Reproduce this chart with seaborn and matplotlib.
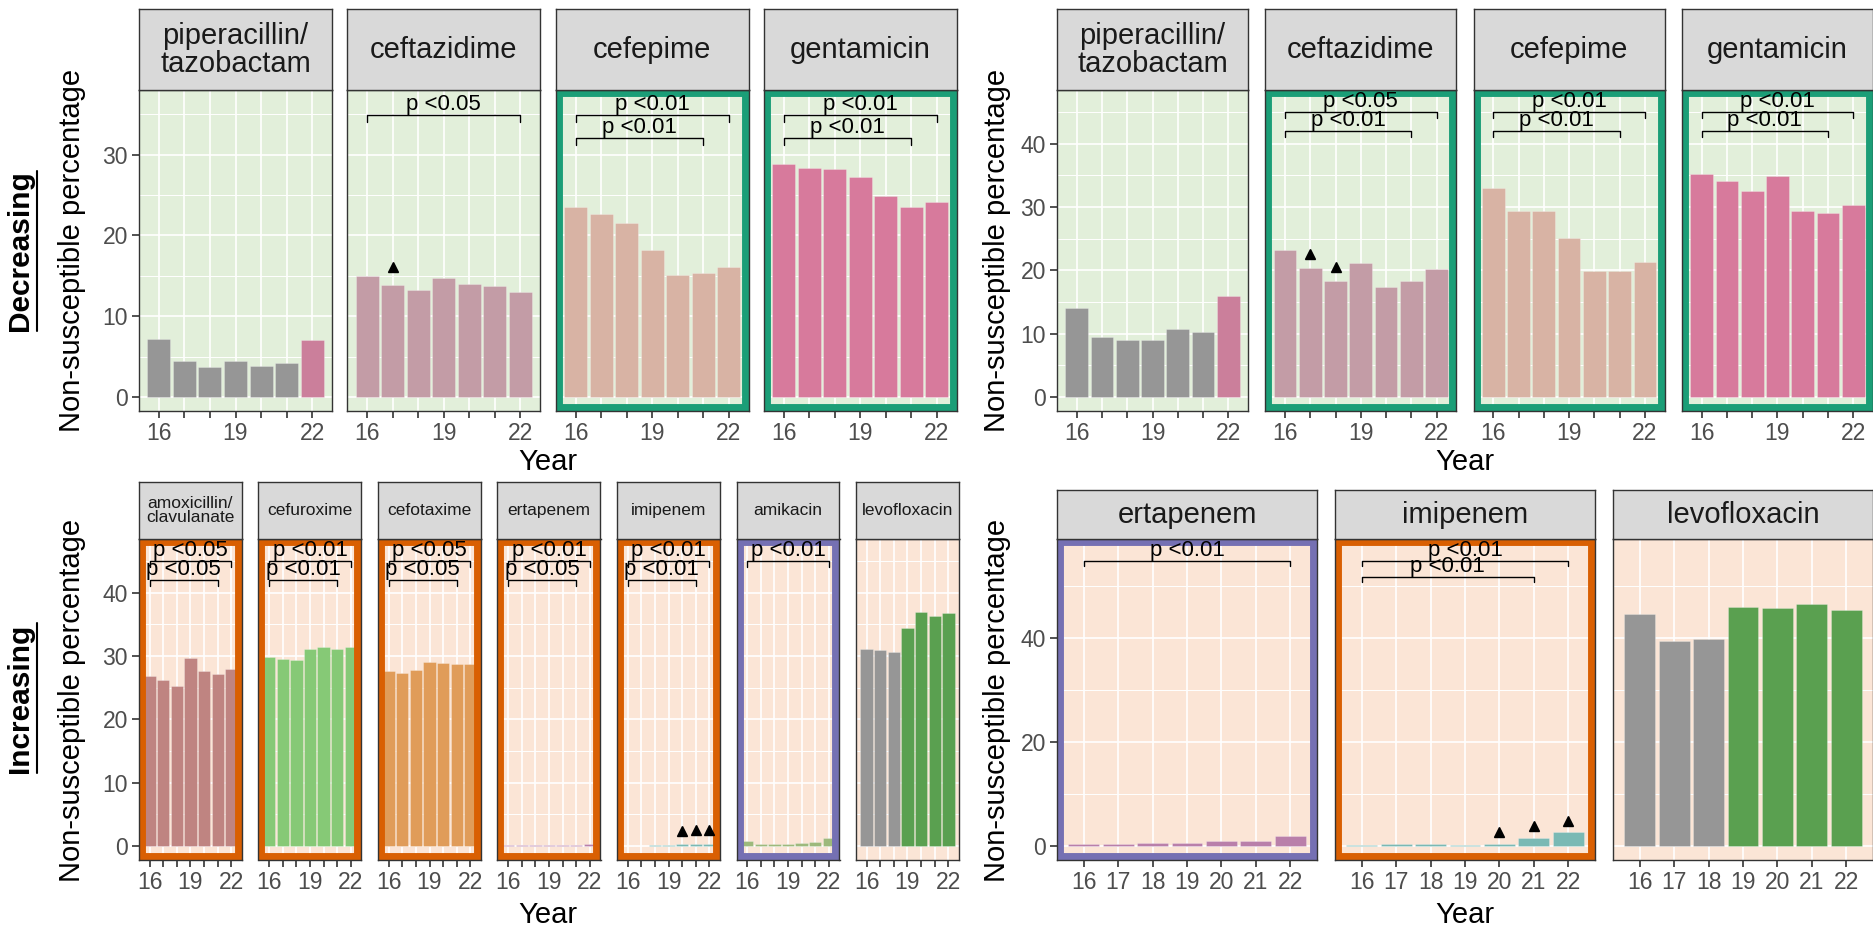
import matplotlib
matplotlib.use("Agg")
import matplotlib.pyplot as plt
from matplotlib.patches import Rectangle
from matplotlib.lines import Line2D
import pandas as pd
import seaborn as sns

# ---------------------------------------------------------------- data
years = [16, 17, 18, 19, 20, 21, 22]

# Decreasing trends, organism A
tl_drugs = ["piperacillin/\ntazobactam", "ceftazidime", "cefepime", "gentamicin"]
tl_pip = [7.2, 4.5, 3.7, 4.4, 3.8, 4.25, 7.1]
tl_caz = [15.0, 13.9, 13.3, 14.7, 14.0, 13.75, 13.0]
tl_fep = [23.5, 22.6, 21.5, 18.2, 15.1, 15.3, 16.1]
tl_gen = [28.9, 28.3, 28.2, 27.2, 24.9, 23.5, 24.1]

# Decreasing trends, organism B
tr_drugs = ["piperacillin/\ntazobactam", "ceftazidime", "cefepime", "gentamicin"]
tr_pip = [14.0, 9.5, 9.05, 9.0, 10.75, 10.3, 15.9]
tr_caz = [23.2, 20.45, 18.3, 21.1, 17.4, 18.4, 20.3]
tr_fep = [33.1, 29.4, 29.4, 25.1, 19.9, 19.85, 21.3]
tr_gen = [35.3, 34.1, 32.6, 34.9, 29.35, 29.15, 30.4]

# Increasing trends, organism A
bl_drugs = ["amoxicillin/\nclavulanate", "cefuroxime", "cefotaxime", "ertapenem",
            "imipenem", "amikacin", "levofloxacin"]
bl_amc = [26.9, 26.2, 25.3, 29.7, 27.6, 27.2, 27.9]
bl_cxm = [29.9, 29.5, 29.4, 31.1, 31.5, 31.2, 31.4]
bl_ctx = [27.7, 27.3, 27.8, 29.05, 28.9, 28.7, 28.7]
bl_etp = [0.1, 0.1, 0.1, 0.15, 0.2, 0.2, 0.25]
bl_ipm = [0.05, 0.05, 0.1, 0.1, 0.25, 0.3, 0.4]
bl_amk = [0.75, 0.4, 0.4, 0.4, 0.5, 0.65, 1.2]
bl_lvx = [31.1, 30.9, 30.7, 34.5, 36.9, 36.4, 36.8]

# Increasing trends, organism B
br_drugs = ["ertapenem", "imipenem", "levofloxacin"]
br_etp = [0.45, 0.45, 0.55, 0.5, 0.95, 0.9, 1.9]
br_ipm = [0.15, 0.4, 0.4, 0.25, 0.45, 1.55, 2.6]
br_lvx = [44.6, 39.3, 39.8, 46.0, 45.8, 46.5, 45.3]

# significance brackets: (from year, to year, label)
tl_sig = [[], [(16, 22, "p <0.05")],
          [(16, 22, "p <0.01"), (16, 21, "p <0.01")],
          [(16, 22, "p <0.01"), (16, 21, "p <0.01")]]
tr_sig = [[], [(16, 22, "p <0.05"), (16, 21, "p <0.01")],
          [(16, 22, "p <0.01"), (16, 21, "p <0.01")],
          [(16, 22, "p <0.01"), (16, 21, "p <0.01")]]
bl_sig = [[(16, 22, "p <0.05"), (16, 21, "p <0.05")],
          [(16, 22, "p <0.01"), (16, 21, "p <0.01")],
          [(16, 22, "p <0.05"), (16, 21, "p <0.05")],
          [(16, 22, "p <0.01"), (16, 21, "p <0.05")],
          [(16, 22, "p <0.01"), (16, 21, "p <0.01")],
          [(16, 22, "p <0.01")],
          []]
br_sig = [[(16, 22, "p <0.01")],
          [(16, 22, "p <0.01"), (16, 21, "p <0.01")],
          []]

# years flagged with a triangle
tl_flag = [[], [17], [], []]
tr_flag = [[], [17, 18], [], []]
bl_flag = [[], [], [], [], [20, 21, 22], [], []]
br_flag = [[], [20, 21, 22], []]

# ---------------------------------------------------------------- style
GREY_BAR = "#969696"
drug_colour = {
    "piperacillin/\ntazobactam": "#CB7F9B",
    "ceftazidime": "#C39CA6",
    "cefepime": "#D8B3A4",
    "gentamicin": "#D77A9C",
    "amoxicillin/\nclavulanate": "#BF8481",
    "cefuroxime": "#86C976",
    "cefotaxime": "#E09C59",
    "ertapenem": "#B97FAA",
    "imipenem": "#7AB9B4",
    "amikacin": "#9DB97C",
    "levofloxacin": "#5AA050",
}
grey_years = {"piperacillin/\ntazobactam": [16, 17, 18, 19, 20, 21],
              "levofloxacin": [16, 17, 18]}

GREEN, ORANGE, PURPLE = "#1B9E77", "#D95F02", "#7570B3"
tl_frame = [None, None, GREEN, GREEN]
tr_frame = [None, GREEN, GREEN, GREEN]
bl_frame = [ORANGE, ORANGE, ORANGE, ORANGE, ORANGE, PURPLE, None]
br_frame = [PURPLE, ORANGE, None]

BG_DEC = "#E2EFDA"
BG_INC = "#FBE5D6"
STRIP = "#D9D9D9"
DARK = "#333333"
TICKTXT = "#4D4D4D"

sns.set_theme(style="white")
plt.rcParams["font.family"] = ["Liberation Sans", "DejaVu Sans"]

W, H = 1874, 930
fig = plt.figure(figsize=(W / 100, H / 100), dpi=100)


def box(x0, y0, x1, y1):
    """Axes from pixel box measured from the top-left corner."""
    return fig.add_axes([x0 / W, 1 - y1 / H, (x1 - x0) / W, (y1 - y0) / H])


def draw_group(drugs, series, sigs, flags, frames, bg, left, step, width,
               top, bottom, strip_top, strip_size, ylim, yticks, yminor,
               bracket_hi, bracket_lo, xlabels):
    for i, (drug, vals) in enumerate(zip(drugs, series)):
        x0 = left + i * step
        ax = box(x0, top, x0 + width, bottom)
        ax.set_facecolor(bg)
        ax.set_axisbelow(True)

        cols = [GREY_BAR if y in grey_years.get(drug, []) else drug_colour[drug]
                for y in years]
        df = pd.DataFrame({"year": years, "value": vals,
                           "key": [str(y) for y in years]})
        sns.barplot(data=df, x="year", y="value", hue="key",
                    hue_order=[str(y) for y in years],
                    palette=dict(zip(df["key"], cols)), saturation=1,
                    native_scale=True, width=0.9, dodge=False, legend=False,
                    edgecolor=(1, 1, 1, 0.35), linewidth=0.5, ax=ax, zorder=2)

        ax.set_xlim(15.22, 22.78)
        ax.set_ylim(*ylim)
        ax.set_xticks(years)
        ax.set_xticklabels(xlabels)
        ax.set_yticks(yticks)
        ax.set_yticks(yminor, minor=True)
        ax.set_xlabel("")
        ax.set_ylabel("")
        ax.grid(True, which="major", color="white", linewidth=1.2)
        ax.grid(True, which="minor", axis="y", color="white", linewidth=0.7)
        ax.tick_params(axis="x", length=5, width=1.2, color=DARK,
                       labelcolor=TICKTXT, labelsize=16.5, pad=3, bottom=True)
        if i == 0:
            ax.tick_params(axis="y", length=5, width=1.2, color=DARK,
                           labelcolor=TICKTXT, labelsize=16.5, pad=3, left=True)
            ax.tick_params(axis="y", which="minor", length=0)
        else:
            ax.tick_params(axis="y", which="both", left=False, labelleft=False)
        for s in ax.spines.values():
            s.set_color(DARK)
            s.set_linewidth(1.0)
            s.set_zorder(3)

        if frames[i] is not None:
            ax.add_patch(Rectangle((0, 0), 1, 1, transform=ax.transAxes,
                                   fill=False, edgecolor=frames[i],
                                   linewidth=10, zorder=2.5))

        # significance brackets
        levels = [bracket_hi, bracket_lo]
        for k, (a, b, lab) in enumerate(sigs[i]):
            h = levels[k]
            ax.plot([a, a, b, b], [h - 0.9, h, h, h - 0.9], color="black",
                    linewidth=1.0, zorder=4)
            ax.text((a + b) / 2, h, lab, ha="center", va="bottom",
                    fontsize=16, color="black", zorder=4)

        # flagged years
        for yr in flags[i]:
            v = vals[years.index(yr)]
            ax.plot(yr, v + 2.2, marker="^", color="black", markersize=7,
                    linestyle="none", zorder=4)

        # strip
        sx = box(x0, strip_top, x0 + width, top)
        sx.set_facecolor(STRIP)
        sx.set_xticks([])
        sx.set_yticks([])
        for s in sx.spines.values():
            s.set_color(DARK)
            s.set_linewidth(1.0)
        sx.text(0.5, 0.5, drug, ha="center", va="center", fontsize=strip_size,
                color="#1A1A1A", linespacing=1.0, transform=sx.transAxes)


lab_sparse = ["16", "", "", "19", "", "", "22"]
lab_full = [str(y) for y in years]

draw_group(tl_drugs, [tl_pip, tl_caz, tl_fep, tl_gen], tl_sig, tl_flag, tl_frame,
           BG_DEC, 139, 208.3, 193, 90, 411, 9, 21,
           (-1.73, 38.0), [0, 10, 20, 30], [5, 15, 25, 35], 34.9, 32.1, lab_sparse)
draw_group(tr_drugs, [tr_pip, tr_caz, tr_fep, tr_gen], tr_sig, tr_flag, tr_frame,
           BG_DEC, 1057, 208.3, 191, 90, 411, 9, 21,
           (-2.2, 48.5), [0, 10, 20, 30, 40], [5, 15, 25, 35, 45], 45.0, 42.0,
           lab_sparse)
draw_group(bl_drugs, [bl_amc, bl_cxm, bl_ctx, bl_etp, bl_ipm, bl_amk, bl_lvx],
           bl_sig, bl_flag, bl_frame, BG_INC, 139, 119.5, 103, 539, 860, 482, 12.5,
           (-2.2, 48.5), [0, 10, 20, 30, 40], [5, 15, 25, 35, 45], 45.0, 42.0,
           lab_sparse)
draw_group(br_drugs, [br_etp, br_ipm, br_lvx], br_sig, br_flag, br_frame,
           BG_INC, 1057, 278, 260, 539, 860, 490, 21,
           (-2.7, 59.0), [0, 20, 40], [10, 30, 50], 54.8, 51.7, lab_full)

# axis titles
for cx, cy in [(72, 250), (72, 700), (997, 250), (997, 700)]:
    fig.text(cx / W, 1 - cy / H, "Non-susceptible percentage", rotation=90,
             ha="center", va="center", fontsize=21, color="black")
for cx, cy in [(548, 462), (1465, 462), (548, 915), (1465, 915)]:
    fig.text(cx / W, 1 - cy / H, "Year", ha="center", va="center",
             fontsize=21, color="black")

# row labels, underlined
row_texts = []
for lab, cy in [("Decreasing", 251), ("Increasing", 698)]:
    t = fig.text(20 / W, 1 - cy / H, lab, rotation=90, ha="center", va="center",
                 fontsize=21.5, fontweight="bold", color="black")
    row_texts.append(t)
fig.canvas.draw()
for t in row_texts:
    bb = t.get_window_extent()
    fig.add_artist(Line2D([37 / W, 37 / W], [bb.y0 / H, bb.y1 / H],
                          transform=fig.transFigure, color="black", linewidth=1.5))

fig.savefig("out.png", dpi=100, facecolor="white")
